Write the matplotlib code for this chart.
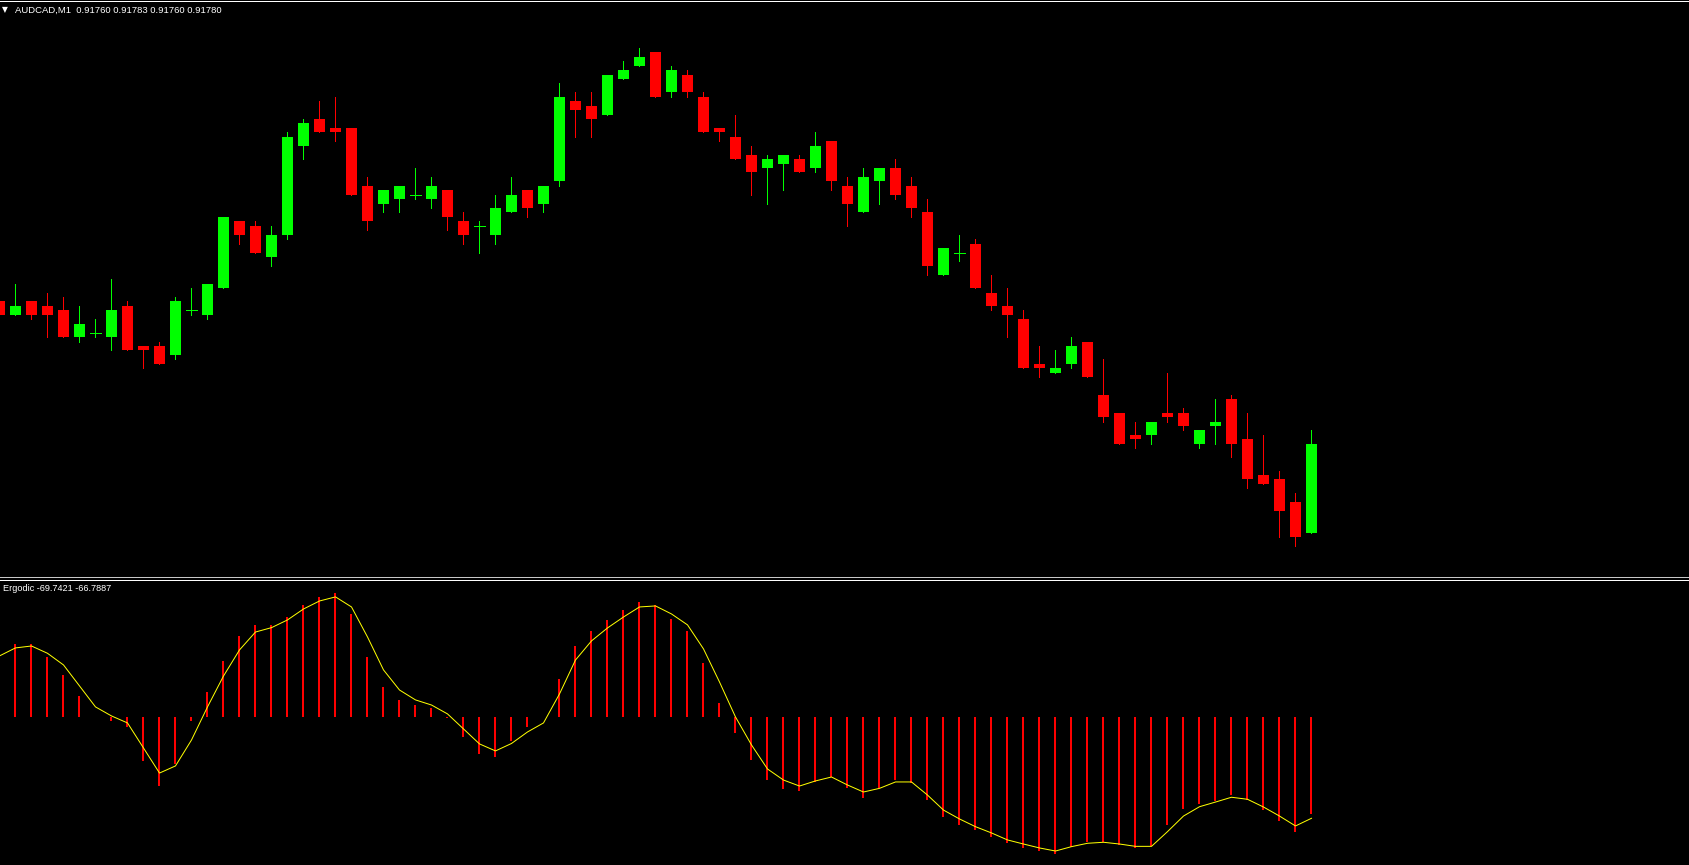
import numpy as np
import matplotlib
matplotlib.use('Agg')
import matplotlib.pyplot as plt

# AUDCAD M1 candles, bar -1 is the partly hidden one at the left edge
open_prices = [0.91812, 0.91809, 0.91812, 0.91811, 0.91810, 0.91804, 0.91805, 0.91804, 0.91811, 0.91802,
               0.91802, 0.91800, 0.91810, 0.91809, 0.91815, 0.91830, 0.91829, 0.91822, 0.91827, 0.91847,
               0.91853, 0.91851, 0.91851, 0.91838, 0.91834, 0.91835, 0.91836, 0.91835, 0.91837, 0.91830,
               0.91829, 0.91827, 0.91832, 0.91837, 0.91834, 0.91839, 0.91857, 0.91856, 0.91854, 0.91862,
               0.91865, 0.91868, 0.91859, 0.91863, 0.91858, 0.91851, 0.91849, 0.91845, 0.91842, 0.91843,
               0.91844, 0.91842, 0.91848, 0.91838, 0.91832, 0.91839, 0.91842, 0.91838, 0.91832, 0.91818,
               0.91823, 0.91825, 0.91814, 0.91811, 0.91808, 0.91798, 0.91796, 0.91798, 0.91803, 0.91791,
               0.91787, 0.91782, 0.91782, 0.91787, 0.91787, 0.91780, 0.91784, 0.91790, 0.91781, 0.91773,
               0.91772, 0.91767, 0.91760]
high_prices = [0.91812, 0.91816, 0.91812, 0.91814, 0.91813, 0.91811, 0.91808, 0.91817, 0.91812, 0.91802,
               0.91803, 0.91813, 0.91815, 0.91816, 0.91831, 0.91830, 0.91830, 0.91829, 0.91850, 0.91853,
               0.91857, 0.91858, 0.91851, 0.91840, 0.91837, 0.91838, 0.91842, 0.91840, 0.91837, 0.91832,
               0.91830, 0.91836, 0.91840, 0.91837, 0.91838, 0.91861, 0.91859, 0.91859, 0.91863, 0.91866,
               0.91869, 0.91868, 0.91865, 0.91864, 0.91859, 0.91851, 0.91854, 0.91847, 0.91845, 0.91845,
               0.91845, 0.91850, 0.91848, 0.91840, 0.91842, 0.91842, 0.91844, 0.91840, 0.91835, 0.91824,
               0.91827, 0.91826, 0.91818, 0.91815, 0.91810, 0.91802, 0.91801, 0.91804, 0.91803, 0.91799,
               0.91787, 0.91785, 0.91785, 0.91796, 0.91788, 0.91783, 0.91790, 0.91791, 0.91787, 0.91782,
               0.91774, 0.91769, 0.91783]
low_prices = [0.91809, 0.91809, 0.91808, 0.91804, 0.91804, 0.91803, 0.91804, 0.91801, 0.91801, 0.91797,
              0.91798, 0.91799, 0.91809, 0.91808, 0.91815, 0.91825, 0.91823, 0.91820, 0.91826, 0.91844,
              0.91850, 0.91848, 0.91836, 0.91828, 0.91832, 0.91832, 0.91835, 0.91833, 0.91828, 0.91825,
              0.91823, 0.91825, 0.91832, 0.91831, 0.91832, 0.91838, 0.91849, 0.91849, 0.91854, 0.91862,
              0.91865, 0.91858, 0.91858, 0.91858, 0.91850, 0.91848, 0.91844, 0.91836, 0.91834, 0.91837,
              0.91841, 0.91841, 0.91837, 0.91829, 0.91832, 0.91834, 0.91835, 0.91831, 0.91818, 0.91818,
              0.91821, 0.91815, 0.91810, 0.91804, 0.91797, 0.91795, 0.91796, 0.91797, 0.91795, 0.91785,
              0.91780, 0.91779, 0.91780, 0.91785, 0.91783, 0.91779, 0.91780, 0.91777, 0.91770, 0.91771,
              0.91759, 0.91757, 0.91760]
close_prices = [0.91809, 0.91811, 0.91809, 0.91809, 0.91804, 0.91807, 0.91805, 0.91810, 0.91801, 0.91801,
                0.91798, 0.91812, 0.91810, 0.91816, 0.91831, 0.91827, 0.91823, 0.91827, 0.91849, 0.91852,
                0.91850, 0.91850, 0.91836, 0.91830, 0.91837, 0.91838, 0.91836, 0.91838, 0.91831, 0.91827,
                0.91829, 0.91833, 0.91836, 0.91833, 0.91838, 0.91858, 0.91855, 0.91853, 0.91863, 0.91864,
                0.91867, 0.91858, 0.91864, 0.91859, 0.91850, 0.91850, 0.91844, 0.91841, 0.91844, 0.91845,
                0.91841, 0.91847, 0.91839, 0.91834, 0.91840, 0.91842, 0.91836, 0.91833, 0.91820, 0.91824,
                0.91823, 0.91815, 0.91811, 0.91809, 0.91797, 0.91797, 0.91797, 0.91802, 0.91795, 0.91786,
                0.91780, 0.91781, 0.91785, 0.91786, 0.91784, 0.91783, 0.91785, 0.91780, 0.91772, 0.91771,
                0.91765, 0.91759, 0.91780]

# Ergodic indicator: signal line starts one bar earlier than the histogram
ergodic_signal = [41.7, 47.2, 48.5, 43.5, 35.5, 21.1, 6.7, 0.5, -4.3, -21.5, -38.7, -33.8, -16.0, 6.7, 27.9,
                  45.8, 58.1, 61.1, 66.4, 73.9, 79.4, 82.2, 75.3, 54.7, 32.1, 18.3, 11.5, 8.0, 1.9, -8.4,
                  -18.7, -23.5, -18.4, -10.5, -4.3, 15.6, 38.9, 52.0, 60.9, 68.4, 75.3, 76.0, 70.5, 63.0,
                  46.5, 23.8, -0.2, -19.4, -35.9, -43.5, -47.6, -44.1, -41.4, -46.9, -51.7, -49.2, -44.8,
                  -44.8, -53.8, -64.1, -70.2, -75.5, -79.8, -84.6, -87.4, -90.1, -92.2, -89.2, -86.9, -86.2,
                  -87.4, -89.0, -89.0, -78.9, -68.2, -61.8, -58.6, -55.3, -56.7, -62.0, -68.2, -75.0, -69.74]
ergodic_hist = [49.9, 49.9, 41.0, 28.6, 14.2, -0.5, -2.7, -6.9, -30.2, -47.4,
                -32.5, -2.7, 17.0, 38.2, 55.4, 63.0, 63.0, 68.4, 76.7, 82.2,
                84.9, 70.7, 41.0, 20.4, 11.5, 8.0, 6.0, -0.9, -13.7, -25.4,
                -27.5, -16.5, -6.9, -0.4, 25.9, 48.5, 58.8, 66.4, 73.2, 78.7,
                76.7, 67.1, 58.8, 36.9, 9.4, -11.2, -29.7, -43.5, -49.6, -51.0,
                -44.6, -41.2, -48.7, -55.8, -48.7, -43.5, -45.3, -57.2, -68.9, -74.3,
                -77.8, -82.6, -86.7, -90.1, -92.2, -94.1, -89.5, -86.0, -86.0, -88.1,
                -89.9, -88.8, -74.3, -63.4, -59.9, -57.9, -53.8, -57.2, -64.1, -71.6,
                -79.2, -66.79]

header_text = 'AUDCAD,M1  0.91760 0.91783 0.91760 0.91780'
ergodic_text = 'Ergodic -69.7421 -66.7887'

W, H = 1690, 865
BULL = '#00ff00'
BEAR = '#ff0000'
px = 0.72  # one pixel in points at dpi 100

fig = plt.figure(figsize=(W / 100, H / 100), dpi=100, facecolor='black')

# main price window (pixel rows 2..576)
ax = fig.add_axes([0, (H - 576) / H, 1, 574 / H])
ax.set_facecolor('black')
o = np.array(open_prices)
h = np.array(high_prices)
l = np.array(low_prices)
c = np.array(close_prices)
idx = np.arange(len(o)) - 1
colors = np.where(c >= o, BULL, BEAR)
ax.vlines(idx, l, h, colors=colors, linewidth=px, antialiased=False)
body_w = 11 / 16
body = np.abs(c - o)
is_doji = body < 1e-7
ax.bar(idx[~is_doji], body[~is_doji], bottom=np.minimum(o, c)[~is_doji], width=body_w,
       color=colors[~is_doji], linewidth=0, antialiased=False)
ax.hlines(c[is_doji], idx[is_doji] - body_w / 2, idx[is_doji] + body_w / 2,
          colors=colors[is_doji], linewidth=px, antialiased=False)
ax.set_xlim(-15.5 / 16, (W - 15.5) / 16)
ax.set_ylim(0.917503, 0.918793)
ax.axis('off')

# Ergodic window (pixel rows 580..865)
ax2 = fig.add_axes([0, 0, 1, 285 / H])
ax2.set_facecolor('black')
ax2.bar(np.arange(len(ergodic_hist)), ergodic_hist, width=2 / 16, color=BEAR, linewidth=0,
        antialiased=False)
ax2.plot(np.arange(len(ergodic_signal)) - 1, ergodic_signal, color='#ffff00', linewidth=px)
ax2.set_xlim(-15.5 / 16, (W - 15.5) / 16)
ax2.set_ylim(-101.8, 93.8)
ax2.axis('off')

# window borders and separator
fig.add_artist(plt.Line2D([0, 1], [1 - 0.5 / H] * 2, color='white', linewidth=px))
fig.add_artist(plt.Line2D([0, 1], [1 - 577 / H] * 2, color='#c8c8c8', linewidth=px))
fig.add_artist(plt.Line2D([0, 1], [1 - 579.5 / H] * 2, color='white', linewidth=px))

# labels
fig.text(5 / W, 1 - 10 / H, '\u25bc', color='white', fontsize=5.5, ha='center', va='center',
         family='DejaVu Sans')
fig.text(15 / W, 1 - 10 / H, header_text, color='white', fontsize=6.8, va='center',
         family='Liberation Sans')
fig.text(3 / W, 1 - 588.5 / H, ergodic_text, color='white', fontsize=6.6, va='center',
         family='Liberation Sans')

fig.savefig('out.png', dpi=100, facecolor='black')
